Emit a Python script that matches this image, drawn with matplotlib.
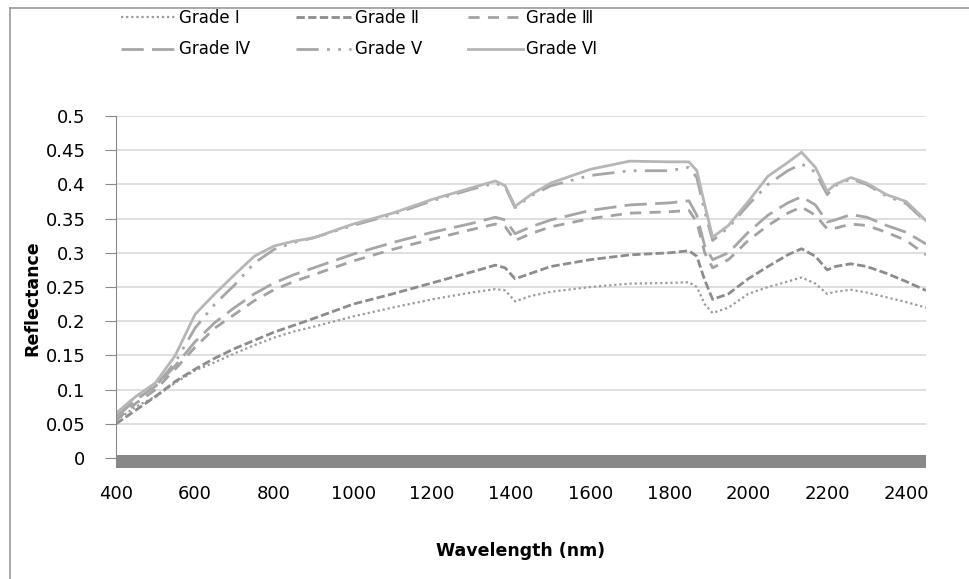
import matplotlib
matplotlib.use("Agg")
import matplotlib.pyplot as plt
from matplotlib.lines import Line2D

# wavelength (nm) and reflectance of the six grades
wavelength = [400, 450, 500, 550, 600, 650, 700, 750, 800, 850, 900, 1000, 1100, 1200, 1300,
              1360, 1385, 1410, 1450, 1500, 1600, 1700, 1800, 1850, 1870, 1890, 1910, 1950,
              2000, 2050, 2100, 2135, 2170, 2200, 2220, 2260, 2300, 2350, 2400, 2450]

grade1 = [0.055, 0.075, 0.09, 0.11, 0.128, 0.14, 0.153, 0.165, 0.176, 0.185, 0.192, 0.207, 0.22,
          0.232, 0.242, 0.247, 0.245, 0.229, 0.237, 0.243, 0.25, 0.255, 0.256, 0.257, 0.25,
          0.225, 0.212, 0.22, 0.24, 0.25, 0.258, 0.264, 0.255, 0.24, 0.243, 0.246, 0.242,
          0.235, 0.228, 0.22]
grade2 = [0.05, 0.07, 0.09, 0.112, 0.13, 0.146, 0.16, 0.172, 0.184, 0.194, 0.204, 0.225, 0.24,
          0.256, 0.272, 0.282, 0.278, 0.262, 0.27, 0.28, 0.29, 0.297, 0.3, 0.303, 0.295, 0.26,
          0.232, 0.24, 0.262, 0.28, 0.297, 0.306, 0.295, 0.275, 0.28, 0.284, 0.28, 0.27,
          0.258, 0.245]
grade3 = [0.055, 0.08, 0.1, 0.13, 0.162, 0.19, 0.21, 0.23, 0.246, 0.258, 0.268, 0.288, 0.305,
          0.32, 0.334, 0.342, 0.338, 0.318, 0.328, 0.338, 0.35, 0.358, 0.36, 0.362, 0.345, 0.3,
          0.278, 0.29, 0.318, 0.34, 0.358, 0.367, 0.355, 0.335, 0.336, 0.342, 0.34, 0.33,
          0.318, 0.297]
grade4 = [0.06, 0.085, 0.105, 0.135, 0.17, 0.198, 0.22, 0.24, 0.256, 0.268, 0.278, 0.298, 0.315,
          0.33, 0.343, 0.352, 0.348, 0.328, 0.338, 0.348, 0.362, 0.37, 0.373, 0.376, 0.355,
          0.31, 0.29, 0.3, 0.33, 0.355, 0.373, 0.382, 0.37, 0.345, 0.348, 0.356, 0.352, 0.34,
          0.33, 0.313]
grade5 = [0.065, 0.09, 0.105, 0.14, 0.19, 0.225, 0.253, 0.285, 0.305, 0.315, 0.322, 0.34, 0.356,
          0.376, 0.393, 0.402, 0.396, 0.366, 0.383, 0.398, 0.413, 0.42, 0.42, 0.425, 0.41,
          0.36, 0.318, 0.337, 0.37, 0.4, 0.42, 0.43, 0.418, 0.385, 0.398, 0.408, 0.4, 0.383,
          0.372, 0.345]
grade6 = [0.065, 0.09, 0.11, 0.15, 0.21, 0.24, 0.268, 0.295, 0.31, 0.317, 0.322, 0.342, 0.358,
          0.378, 0.395, 0.405, 0.398, 0.368, 0.385, 0.402, 0.422, 0.434, 0.433, 0.433, 0.42,
          0.37, 0.323, 0.34, 0.375, 0.412, 0.432, 0.447, 0.425, 0.39, 0.4, 0.41, 0.402, 0.385,
          0.375, 0.347]

labels = ["Grade \u2160", "Grade \u2161", "Grade \u2162", "Grade \u2163", "Grade \u2164", "Grade \u2165"]
series = [grade1, grade2, grade3, grade4, grade5, grade6]
colors = ["#9a9a9a", "#8c8c8c", "#a2a2a2", "#a6a6a6", "#a6a6a6", "#b6b6b6"]
dashes = [(1, 1.3), (3, 1.2), (4, 3), (8, 3), (8, 3, 1, 3, 1, 3), None]
widths = [1.6, 2.0, 2.0, 2.0, 2.0, 2.0]

plt.rcParams['font.family'] = ['DejaVu Sans']

fig = plt.figure(figsize=(9.7, 5.79), dpi=100)
ax = fig.add_axes([116/970, 1 - 468/579, 810/970, 352/579])

lines = []
for i in range(6):
    if dashes[i] is None:
        ln, = ax.plot(wavelength, series[i], color=colors[i], lw=widths[i], label=labels[i])
    else:
        ln, = ax.plot(wavelength, series[i], color=colors[i], lw=widths[i], label=labels[i],
                      linestyle=(0, dashes[i]))
    lines.append(ln)

# grey floor bar
ax.axhspan(-0.0145, 0.004, color="#888888", lw=0, zorder=3)

ax.set_xlim(400, 2450)
ax.set_ylim(-0.0145, 0.5)
ax.set_xticks(range(400, 2401, 200))
ax.set_yticks([0, 0.05, 0.1, 0.15, 0.2, 0.25, 0.3, 0.35, 0.4, 0.45, 0.5])
ax.set_yticklabels(["0", "0.05", "0.1", "0.15", "0.2", "0.25", "0.3", "0.35", "0.4", "0.45", "0.5"])
ax.grid(axis="y", color="#d9d9d9", lw=1.2)
ax.set_axisbelow(True)
for s in ["top", "right", "bottom"]:
    ax.spines[s].set_visible(False)
ax.spines["left"].set_color("#8a8a8a")
ax.spines["left"].set_bounds(0, 0.5)
ax.tick_params(axis="y", length=8, color="#8a8a8a", labelsize=13, pad=14)
ax.tick_params(axis="x", length=0, labelsize=13, pad=12)

ax.set_xlabel("Wavelength (nm)", fontsize=12.5, fontweight="bold", labelpad=28)
ax.set_ylabel("Reflectance", fontsize=12.5, fontweight="bold")
ax.yaxis.set_label_coords(-0.092, 0.483)

order = [0, 3, 1, 4, 2, 5]
fig.legend([lines[k] for k in order], [labels[k] for k in order], ncol=3,
           loc="upper left", bbox_to_anchor=(106/970, 1 + 6/579), frameon=False,
           fontsize=12, handlelength=3.3, handletextpad=0.2, columnspacing=2.75,
           labelspacing=0.8)

# outer frame
fig.add_artist(Line2D([10/970, 1], [1 - 8/579, 1 - 8/579], color="#9a9a9a", lw=1.2))
fig.add_artist(Line2D([10/970, 10/970], [0, 1 - 8/579], color="#9a9a9a", lw=1.2))

fig.savefig("out.png", dpi=100)
